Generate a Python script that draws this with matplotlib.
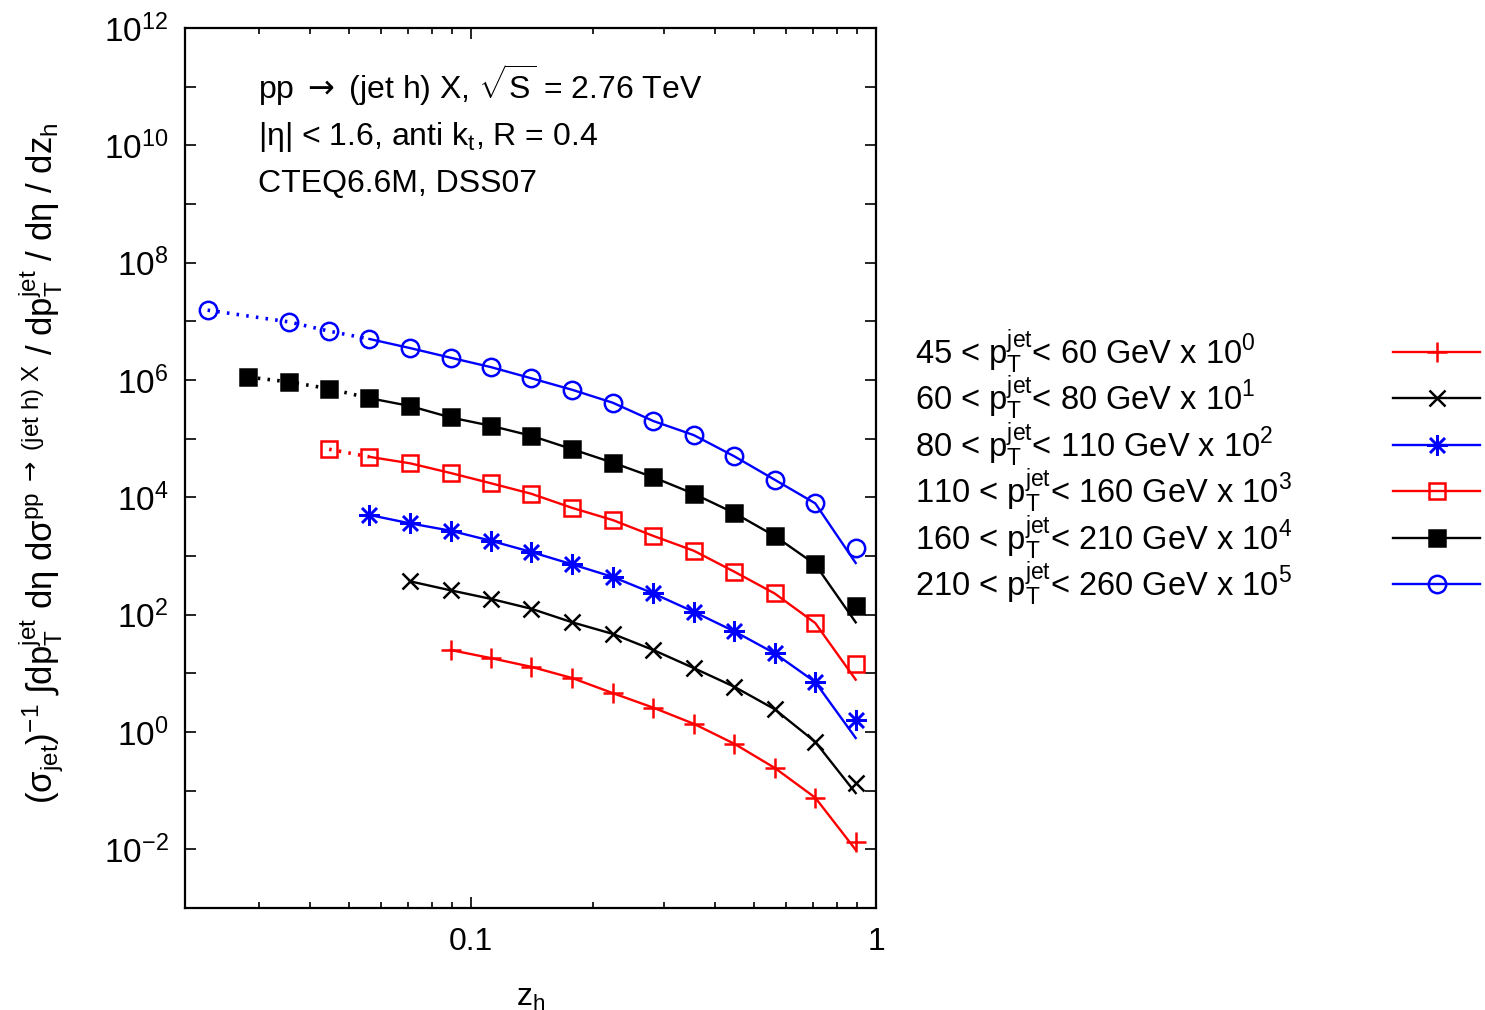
import matplotlib
matplotlib.use("Agg")
import matplotlib.pyplot as plt
from matplotlib.lines import Line2D
from matplotlib.ticker import FixedLocator, NullFormatter

plt.rcParams['font.family'] = ['Liberation Sans', 'DejaVu Sans']
plt.rcParams['mathtext.fontset'] = 'custom'
plt.rcParams['mathtext.rm'] = 'Liberation Sans'
plt.rcParams['mathtext.it'] = 'Liberation Sans:italic'
plt.rcParams['mathtext.sf'] = 'DejaVu Sans'
plt.rcParams['mathtext.default'] = 'regular'

FS = 23

# z_h bin centres
z_circ = [0.0224, 0.0355, 0.0447, 0.0562, 0.0708, 0.0891, 0.112, 0.141, 0.178,
          0.224, 0.282, 0.355, 0.447, 0.562, 0.708, 0.891]
z_fsq = [0.0282, 0.0355, 0.0447, 0.0562, 0.0708, 0.0891, 0.112, 0.141, 0.178,
         0.224, 0.282, 0.355, 0.447, 0.562, 0.708, 0.891]
z_osq = z_fsq[2:]
z_star = z_fsq[3:]
z_x = z_fsq[4:]
z_plus = z_fsq[5:]

# scaled distributions (markers)
y_plus = [25, 18.2, 12.9, 8.3, 4.6, 2.6, 1.38, 0.63, 0.245, 0.076, 0.0135]
y_x = [370, 260, 186, 126, 74, 47, 25, 12.3, 5.9, 2.45, 0.68, 0.135]
y_star = [5.0e3, 3.6e3, 2.7e3, 1.82e3, 1.17e3, 720, 440, 230, 112, 52, 22, 7.1, 1.58]
y_osq = [6.6e4, 4.9e4, 3.8e4, 2.6e4, 1.74e4, 1.15e4, 6.6e3, 4.1e3, 2.2e3,
         1.23e3, 540, 230, 72, 14.5]
y_fsq = [1.12e6, 9.3e5, 7.1e5, 4.9e5, 3.6e5, 2.3e5, 1.66e5, 1.12e5, 6.6e4,
         3.9e4, 2.2e4, 1.15e4, 5.4e3, 2.2e3, 720, 141]
y_circ = [1.55e7, 9.8e6, 6.8e6, 5.0e6, 3.5e6, 2.4e6, 1.66e6, 1.07e6, 6.8e5,
          4.1e5, 2.0e5, 1.15e5, 5.0e4, 2.0e4, 7.9e3, 1.38e3]

# where the curves end at the last bin (slightly below the last marker)
end_plus, end_x, end_star, end_osq, end_fsq, end_circ = 0.0098, 0.091, 0.79, 7.8, 74, 760

labels = [
    r"45 < p$_T^{jet}$< 60 GeV x 10$^0$",
    r"60 < p$_T^{jet}$< 80 GeV x 10$^1$",
    r"80 < p$_T^{jet}$< 110 GeV x 10$^2$",
    r"110 < p$_T^{jet}$< 160 GeV x 10$^3$",
    r"160 < p$_T^{jet}$< 210 GeV x 10$^4$",
    r"210 < p$_T^{jet}$< 260 GeV x 10$^5$",
]

red = '#ff0000'
blue = '#0000ff'
series = [
    (z_plus, y_plus, end_plus, red, dict(marker='+', ms=14, mew=1.8, mfc='none')),
    (z_x, y_x, end_x, 'black', dict(marker='x', ms=12, mew=1.8, mfc='none')),
    (z_star, y_star, end_star, blue, dict(marker=(8, 2, 0), ms=15, mew=1.8, mfc='none')),
    (z_osq, y_osq, end_osq, red, dict(marker='s', ms=12, mew=1.8, mfc='none')),
    (z_fsq, y_fsq, end_fsq, 'black', dict(marker='s', ms=12, mew=1.8)),
    (z_circ, y_circ, end_circ, blue, dict(marker='o', ms=12.5, mew=1.8, mfc='none')),
]
z_cut = 0.0562  # dotted below this

fig = plt.figure(figsize=(14.85, 10.1), dpi=100)
ax = fig.add_axes([185 / 1485, 1 - 908 / 1010, 691 / 1485, 880 / 1010])

for z, y, yend, col, mk in series:
    curve = list(y[:-1]) + [yend]
    lo = [i for i in range(len(z)) if z[i] <= z_cut]
    hi = [i for i in range(len(z)) if z[i] >= z_cut]
    if len(lo) > 1:
        ax.plot([z[i] for i in lo], [curve[i] for i in lo], color=col, lw=2.6,
                ls=(0, (0.7, 2.0)), dash_capstyle='butt')
    ax.plot([z[i] for i in hi], [curve[i] for i in hi], color=col, lw=1.7)
    ax.plot(z, y, ls='none', color=col, mec=col, **mk)

ax.set_xscale('log')
ax.set_yscale('log')
ax.set_xlim(0.0197, 1.0)
ax.set_ylim(1e-3, 1e12)

ax.xaxis.set_major_locator(FixedLocator([0.1, 1.0]))
ax.set_xticklabels(['0.1', '1'])
ax.xaxis.set_minor_locator(FixedLocator([0.03, 0.04, 0.05, 0.06, 0.07, 0.08, 0.09,
                                         0.2, 0.3, 0.4, 0.5, 0.6, 0.7, 0.8, 0.9]))
ax.xaxis.set_minor_formatter(NullFormatter())

ydec = list(range(-3, 13))
ax.yaxis.set_major_locator(FixedLocator([10.0 ** k for k in ydec]))
ax.set_yticklabels([r"10$^{%d}$" % k if k % 2 == 0 and k > -3 else "" for k in ydec])
ax.yaxis.set_minor_locator(FixedLocator([]))

ax.tick_params(which='both', direction='in', top=True, right=True, width=1.2)
ax.tick_params(which='major', length=8)
ax.tick_params(which='minor', length=4)
ax.tick_params(axis='x', pad=14, labelsize=FS)
ax.tick_params(axis='y', pad=12, labelsize=24)
for sp in ax.spines.values():
    sp.set_linewidth(1.6)

ax.set_xlabel(r"z$_h$", fontsize=FS)
ax.xaxis.set_label_coords(0.5, -0.085)
ax.set_ylabel(r"($\sigma_{jet}$)$^{-1}$ ∫dp$_T^{jet}$ dη dσ$^{pp\ \mathsf{\rightarrow}\ (jet\ h)\ X}$ / dp$_T^{jet}$ / dη / dz$_h$",
              fontsize=25)
ax.yaxis.set_label_coords(-0.172, 0.505)

ax.text(0.1056, 0.9188, r"pp $\mathsf{\rightarrow}$ (jet h) X, $\sqrt{S}$ = 2.76 TeV",
        transform=ax.transAxes, fontsize=FS, va='baseline')
ax.text(0.1056, 0.8676, r"|η| < 1.6, anti k$_t$, R = 0.4", transform=ax.transAxes,
        fontsize=FS, va='baseline')
ax.text(0.1056, 0.8131, "CTEQ6.6M, DSS07", transform=ax.transAxes,
        fontsize=FS, va='baseline')

# legend to the right of the axes: text left, sample on the right
rows = [352, 398, 445, 491, 538, 584]
for (z, y, yend, col, mk), lab, py in zip(series, labels, rows):
    fy = 1 - py / 1010
    fig.text(915 / 1485, fy - 11.5 / 1010, lab, fontsize=FS + 0.5, va='baseline')
    fig.add_artist(Line2D([1393 / 1485, 1480 / 1485], [fy, fy], color=col, lw=1.7,
                          transform=fig.transFigure))
    fig.add_artist(Line2D([1437 / 1485], [fy], ls='none', color=col, mec=col,
                          transform=fig.transFigure, **mk))

fig.savefig("out.png", dpi=100)
